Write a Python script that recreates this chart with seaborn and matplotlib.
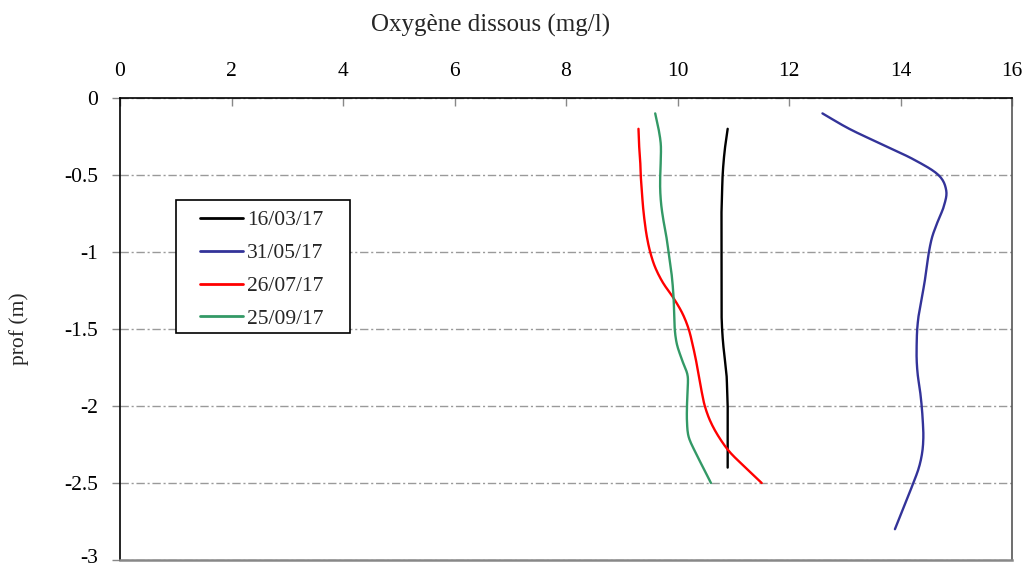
import matplotlib
matplotlib.use("Agg")
import matplotlib.pyplot as plt
from matplotlib.patches import Rectangle
from matplotlib.transforms import ScaledTranslation
import seaborn as sns
import pandas as pd
import numpy as np

# Dissolved oxygen profiles (mg/l) against depth (m), one per sampling date
dates = ["16/03/17", "31/05/17", "26/07/17", "25/09/17"]
colors = ["#000000", "#333399", "#FF0000", "#339966"]

depth_1603 = [-0.2, -0.3, -0.4, -0.5, -0.6, -0.7, -0.8, -0.9, -1.0, -1.1, -1.2, -1.3,
              -1.4, -1.5, -1.6, -1.7, -1.8, -1.9, -2.0, -2.1, -2.2, -2.3, -2.4]
oxy_1603 = [10.90, 10.86, 10.83, 10.81, 10.80, 10.79, 10.79, 10.79, 10.79, 10.79, 10.79, 10.79,
            10.79, 10.80, 10.82, 10.85, 10.88, 10.89, 10.90, 10.90, 10.90, 10.90, 10.90]

depth_3105 = [-0.1, -0.2, -0.3, -0.4, -0.5, -0.6, -0.7, -0.8, -0.9, -1.0, -1.1, -1.2, -1.3, -1.4,
              -1.5, -1.6, -1.7, -1.8, -1.9, -2.0, -2.1, -2.2, -2.3, -2.4, -2.5, -2.6, -2.7, -2.8]
oxy_3105 = [12.60, 13.08, 13.66, 14.24, 14.68, 14.82, 14.78, 14.67, 14.57, 14.51, 14.47, 14.43, 14.38, 14.33,
            14.30, 14.29, 14.29, 14.31, 14.35, 14.38, 14.40, 14.41, 14.39, 14.33, 14.23, 14.12, 14.01, 13.90]

depth_2607 = [-0.2, -0.3, -0.4, -0.5, -0.6, -0.7, -0.8, -0.9, -1.0, -1.1, -1.2, -1.3,
              -1.4, -1.5, -1.6, -1.7, -1.8, -1.9, -2.0, -2.1, -2.2, -2.3, -2.4, -2.5]
oxy_2607 = [9.30, 9.31, 9.33, 9.34, 9.36, 9.38, 9.41, 9.45, 9.51, 9.60, 9.74, 9.93,
            10.09, 10.20, 10.27, 10.33, 10.38, 10.43, 10.49, 10.59, 10.74, 10.94, 11.22, 11.51]

depth_2509 = [-0.1, -0.2, -0.3, -0.4, -0.5, -0.6, -0.7, -0.8, -0.9, -1.0, -1.1, -1.2, -1.3,
              -1.4, -1.5, -1.6, -1.7, -1.8, -1.9, -2.0, -2.1, -2.2, -2.3, -2.4, -2.5]
oxy_2509 = [9.60, 9.66, 9.70, 9.70, 9.69, 9.69, 9.71, 9.75, 9.80, 9.84, 9.88, 9.91, 9.93,
            9.94, 9.95, 9.99, 10.08, 10.18, 10.18, 10.17, 10.17, 10.20, 10.32, 10.46, 10.60]

x_ticks = [0, 2, 4, 6, 8, 10, 12, 14, 16]
y_ticks = [0, -0.5, -1, -1.5, -2, -2.5, -3]
y_tick_labels = ["0", "-0.5", "-1", "-1.5", "-2", "-2.5", "-3"]

frames = []
for d, dep, ox in [(dates[0], depth_1603, oxy_1603), (dates[1], depth_3105, oxy_3105),
                   (dates[2], depth_2607, oxy_2607), (dates[3], depth_2509, oxy_2509)]:
    frames.append(pd.DataFrame({"date": d, "prof": dep, "oxygene": ox}))
df = pd.concat(frames, ignore_index=True)


def catmull_rom(x, y, steps=12):
    """Smooth curve passing through every point (spreadsheet-style smoothed line)."""
    p = np.column_stack([x, y]).astype(float)
    if len(p) < 3:
        return p[:, 0], p[:, 1]
    p = np.vstack([2 * p[0] - p[1], p, 2 * p[-1] - p[-2]])
    out = []
    t = np.linspace(0, 1, steps, endpoint=False)[:, None]
    for i in range(1, len(p) - 2):
        p0, p1, p2, p3 = p[i - 1], p[i], p[i + 1], p[i + 2]
        seg = 0.5 * ((2 * p1) + (-p0 + p2) * t + (2 * p0 - 5 * p1 + 4 * p2 - p3) * t ** 2
                     + (-p0 + 3 * p1 - 3 * p2 + p3) * t ** 3)
        out.append(seg)
    out.append(p[-2][None, :])
    out = np.vstack(out)
    return out[:, 0], out[:, 1]


sns.set_theme(style="white")
plt.rcParams["font.family"] = ["Liberation Serif", "DejaVu Serif"]
plt.rcParams["axes.unicode_minus"] = False

fig = plt.figure(figsize=(10.24, 5.68), dpi=100)
ax = fig.add_axes([120 / 1024, 1 - 560 / 568, (1012 - 120) / 1024, (560 - 98) / 568])

sns.lineplot(data=df, x="oxygene", y="prof", hue="date", hue_order=dates,
             palette=dict(zip(dates, colors)), estimator=None, sort=False,
             linewidth=1.7, ax=ax)

# smooth each profile line through its measured points
for line in ax.lines:
    xd, yd = line.get_xdata(), line.get_ydata()
    if len(xd) > 2:
        sx, sy = catmull_rom(np.asarray(xd), np.asarray(yd))
        line.set_data(sx, sy)

ax.set_xlim(0, 16)
ax.set_ylim(-3, 0)
ax.set_xticks(x_ticks)
ax.set_yticks(y_ticks)
ax.set_yticklabels(y_tick_labels)
ax.xaxis.tick_top()
ax.tick_params(axis="x", direction="in", length=6, color="#888888", width=1,
               labelsize=15.5, pad=12, labelcolor="black")
ax.tick_params(axis="y", direction="out", length=6, color="#888888", width=1,
               labelsize=15.5, pad=10, labelcolor="black", left=True)
ax.set_xlabel("")
ax.set_ylabel("prof (m)", fontsize=15.5)
ax.yaxis.set_label_coords((29 - 120) / 892, 0.5)

# keep the lowest depth label inside the figure edge
bottom_label = ax.yaxis.get_major_ticks()[-1].label1
bottom_label.set_transform(bottom_label.get_transform()
                           + ScaledTranslation(0, 3 / 72, fig.dpi_scale_trans))

# horizontal dash-dot grid
ax.yaxis.grid(True, color="#9a9a9a", linestyle=(0, (6, 2, 1.5, 2)), linewidth=1)
ax.xaxis.grid(False)

for side in ["top", "left"]:
    ax.spines[side].set_color("black")
    ax.spines[side].set_linewidth(1.2)
ax.spines["right"].set_color("#555555")
ax.spines["right"].set_linewidth(1.2)
ax.spines["bottom"].set_color("#888888")
ax.spines["bottom"].set_linewidth(1.8)
ax.spines["bottom"].set_linestyle((0, (6, 1, 1.5, 1)))

fig.text(491 / 1024, 1 - 25 / 568, "Oxygène dissous (mg/l)", ha="center", va="center",
         fontsize=18)

# legend with a plain rectangular frame
frame = Rectangle((176 / 1024, 1 - 333 / 568), (350 - 176) / 1024, (333 - 200) / 568,
                  transform=fig.transFigure, fill=True, facecolor="white",
                  edgecolor="black", linewidth=1.2, zorder=4, clip_on=False)
ax.add_patch(frame)
leg = ax.legend(loc="upper left", bbox_to_anchor=(200 / 1024, 1 - 210 / 568),
                bbox_transform=fig.transFigure, frameon=False,
                fontsize=15.5, handlelength=2.0, handletextpad=0.2, borderpad=0,
                labelspacing=0.6, borderaxespad=0)
for line in leg.get_lines():
    line.set_linewidth(2)
leg.set_zorder(5)

fig.savefig("out.png", dpi=100)
